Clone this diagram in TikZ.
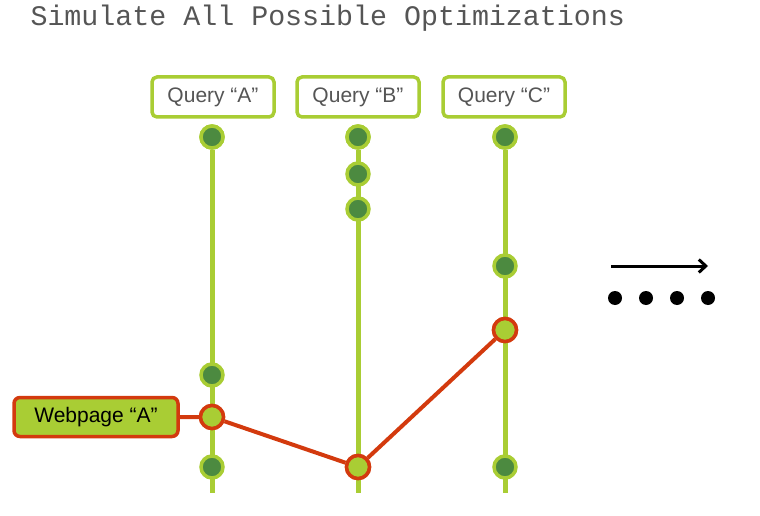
\documentclass[tikz,border=0pt]{standalone}
\usepackage{fontspec}
\setmainfont{Liberation Sans}
\newfontfamily\titlefont{Liberation Mono}
\usepackage{tikz}
\usetikzlibrary{arrows.meta,positioning}
\definecolor{lime}{HTML}{A9CD34}
\definecolor{leaf}{HTML}{4C8A40}
\definecolor{rust}{HTML}{D33A0E}
\definecolor{ink}{HTML}{555555}

\begin{document}
\begin{tikzpicture}[x=1pt,y=-1pt,
qbox/.style={draw=lime, line width=3.5pt, rounded corners=5pt, fill=white,
  minimum width=122pt, minimum height=40pt, text=ink, font=\fontsize{21}{24}\selectfont},
wbox/.style={draw=rust, line width=3.5pt, rounded corners=6pt, fill=lime,
  minimum width=164pt, minimum height=39pt, text=black, font=\fontsize{21}{24}\selectfont},
dot/.style={circle, draw=lime, line width=3.5pt, fill=leaf, minimum size=22pt, inner sep=0pt},
hit/.style={circle, draw=rust, line width=3.5pt, fill=lime, minimum size=23pt, inner sep=0pt},
rail/.style={draw=lime, line width=5pt},
pick/.style={draw=rust, line width=4pt},
blob/.style={circle, fill=black, minimum size=14pt, inner sep=0pt}
]
\useasboundingbox (0,0) rectangle (760,516);
\node[anchor=base west, text=ink, font=\titlefont\fontsize{28.3}{30}\selectfont] (title) at (27,26) {Simulate All Possible Optimizations};
% queries
\node[qbox] (qa) at (213,97) {Query “A”};
\node[qbox] (qb) at (358,97) {Query “B”};
\node[qbox] (qc) at (504,97) {Query “C”};
\coordinate (ea) at (212,493);
\coordinate (eb) at (358,493);
\coordinate (ec) at (505,493);
\node[dot] (a1) at (212,137) {};
\node[dot] (b1) at (358,137) {};
\node[dot] (c1) at (505,137) {};
\draw[rail] (a1) -- (ea); \draw[rail] (b1) -- (eb); \draw[rail] (c1) -- (ec);
\node[dot] (a1) at (212,137) {};
\node[dot] (b1) at (358,137) {};
\node[dot] (c1) at (505,137) {};
\node[dot] (a2) at (212,375) {};
\node[dot] (a3) at (212,467) {};
\node[dot] (b2) at (358,174) {};
\node[dot] (b3) at (358,209) {};
\node[dot] (c2) at (505,266) {};
\node[dot] (c3) at (505,467) {};
% chosen plan
\node[wbox] (web) at (96,417) {Webpage “A”};
\node[hit] (ha) at (212,417) {};
\node[hit] (hb) at (358,467) {};
\node[hit] (hc) at (505,330) {};
\draw[pick] (web) -- (ha) -- (hb) -- (hc);
\node[hit] at (ha) {}; \node[hit] at (hb) {}; \node[hit] at (hc) {};
% more
\coordinate (s) at (611,266);
\coordinate (t) at (708,266);
\draw[line width=3pt, -{Straight Barb[length=7pt,width=13pt]}] (s) -- (t);
\foreach \x/\n in {615/d1,646/d2,677/d3,708/d4}
  \node[blob] (\n) at (\x,298) {};
\end{tikzpicture}
\end{document}
